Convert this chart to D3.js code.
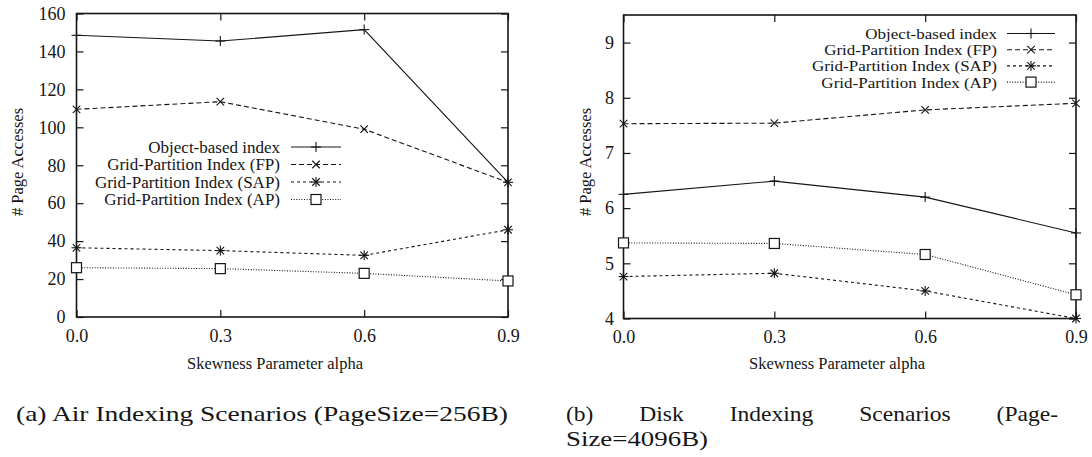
<!DOCTYPE html>
<html>
<head>
<meta charset="utf-8">
<script src="https://cdn.jsdelivr.net/npm/d3@7"></script>
<style>
  html, body { margin: 0; padding: 0; background: #fff; }
  svg { display: block; }
  text { fill: #151515; }
</style>
</head>
<body>
<svg id="fig" width="1092" height="457"></svg>
<script>
// Skewness parameter values on the x axis
const alphaValues = [0.0, 0.3, 0.6, 0.9];
const alphaTickLabels = ["0.0", "0.3", "0.6", "0.9"];

// Series names (legend order)
const seriesNames = [
  "Object-based index",
  "Grid-Partition Index (FP)",
  "Grid-Partition Index (SAP)",
  "Grid-Partition Index (AP)"
];

// (a) Air indexing, page size 256B
const airObject = [148.5, 145.5, 151.5, 71];
const airFP     = [109.5, 113.5, 99, 71];
const airSAP    = [36.5, 35, 32.5, 46];
const airAP     = [26, 25.5, 23, 19];
const airYTicks = [0, 20, 40, 60, 80, 100, 120, 140, 160];

// (b) Disk indexing, page size 4096B
const diskObject = [6.25, 6.49, 6.2, 5.55];
const diskFP     = [7.53, 7.54, 7.78, 7.9];
const diskSAP    = [4.76, 4.82, 4.5, 4.0];
const diskAP     = [5.37, 5.36, 5.16, 4.43];
const diskYTicks = [4, 5, 6, 7, 8, 9];

const ink = "#151515";
const serif = "Liberation Serif, Times New Roman, serif";
const styles = [
  { dash: null,  marker: "plus" },
  { dash: "5,3", marker: "cross" },
  { dash: "3,3", marker: "star" },
  { dash: "1,1.6", marker: "square" }
];

const svg = d3.select("#fig");

function drawMarker(g, type, x, y, s) {
  const m = g.append("g").attr("transform", `translate(${x},${y})`)
    .attr("stroke", ink).attr("stroke-width", 1.1).attr("fill", "none");
  if (type === "plus" || type === "star") {
    m.append("line").attr("x1", -s).attr("x2", s).attr("y1", 0).attr("y2", 0);
    m.append("line").attr("x1", 0).attr("x2", 0).attr("y1", -s).attr("y2", s);
  }
  if (type === "cross" || type === "star") {
    const d = s * 0.75;
    m.append("line").attr("x1", -d).attr("x2", d).attr("y1", -d).attr("y2", d);
    m.append("line").attr("x1", -d).attr("x2", d).attr("y1", d).attr("y2", -d);
  }
  if (type === "square") {
    m.append("rect").attr("x", -s).attr("y", -s).attr("width", 2 * s).attr("height", 2 * s)
      .attr("fill", "#fff").attr("stroke-width", 1.2);
  }
}

function drawPanel(cfg) {
  const x = d3.scaleLinear().domain([0, 0.9]).range([cfg.left, cfg.right]);
  const y = d3.scaleLinear().domain(cfg.yDomain).range([cfg.bottom, cfg.top]);
  const g = svg.append("g");
  const tickLen = 7;

  // left axis with labels, inward ticks
  const yAxisL = d3.axisLeft(y).tickValues(cfg.yTicks).tickSize(-tickLen).tickPadding(cfg.yPad)
    .tickFormat(cfg.yFormat);
  const gl = g.append("g").attr("transform", `translate(${cfg.left},0)`).call(yAxisL);
  // right mirrored ticks
  const yAxisR = d3.axisRight(y).tickValues(cfg.yTicks).tickSize(-tickLen).tickFormat("");
  const gr = g.append("g").attr("transform", `translate(${cfg.right},0)`).call(yAxisR);
  // bottom axis with labels
  const xAxisB = d3.axisBottom(x).tickValues(alphaValues).tickSize(-tickLen).tickPadding(12)
    .tickFormat((d, i) => alphaTickLabels[i]);
  const gb = g.append("g").attr("transform", `translate(0,${cfg.bottom})`).call(xAxisB);
  // top mirrored ticks
  const xAxisT = d3.axisTop(x).tickValues(alphaValues).tickSize(-tickLen).tickFormat("");
  const gt = g.append("g").attr("transform", `translate(0,${cfg.top})`).call(xAxisT);

  [gl, gr, gb, gt].forEach(a => {
    a.select(".domain").remove();
    a.selectAll(".tick line").attr("stroke", ink).attr("stroke-width", 1.2);
    a.selectAll(".tick text")
      .attr("font-family", serif)
      .attr("font-size", cfg.tickFont).attr("fill", ink);
  });

  // frame
  g.append("rect").attr("x", cfg.left).attr("y", cfg.top)
    .attr("width", cfg.right - cfg.left).attr("height", cfg.bottom - cfg.top)
    .attr("fill", "none").attr("stroke", ink).attr("stroke-width", 1.6);

  // series
  const line = d3.line().x((d, i) => x(alphaValues[i])).y(d => y(d));
  cfg.series.forEach((vals, si) => {
    const st = styles[si];
    g.append("path").datum(vals).attr("d", line)
      .attr("fill", "none").attr("stroke", ink).attr("stroke-width", 1.1)
      .attr("stroke-dasharray", st.dash);
    vals.forEach((v, i) => drawMarker(g, st.marker, x(alphaValues[i]), y(v), cfg.markerSize));
  });

  // legend: entries keep the width of a 17px label even when the font is set smaller
  cfg.series.forEach((vals, si) => {
    const st = styles[si];
    const ly = cfg.legendY + si * cfg.legendStep;
    const t = g.append("text").attr("x", cfg.legendTextX).attr("y", ly).attr("dy", "0.35em")
      .attr("text-anchor", "end")
      .attr("font-family", serif)
      .attr("font-size", 17).text(seriesNames[si]);
    const w = t.node().getComputedTextLength();
    t.attr("font-size", cfg.legendFont)
      .attr("textLength", w).attr("lengthAdjust", "spacingAndGlyphs");
    g.append("line").attr("x1", cfg.legendLineX1).attr("x2", cfg.legendLineX2)
      .attr("y1", ly).attr("y2", ly).attr("stroke", ink).attr("stroke-width", 1.1)
      .attr("stroke-dasharray", st.dash);
    drawMarker(g, st.marker, (cfg.legendLineX1 + cfg.legendLineX2) / 2, ly, cfg.markerSize);
  });

  // axis titles
  g.append("text")
    .attr("transform", `translate(${cfg.yTitleX},${cfg.yTitleY}) rotate(-90)`)
    .attr("text-anchor", "middle").attr("dy", "0.35em")
    .attr("font-family", serif)
    .attr("font-size", cfg.titleFont).text("# Page Accesses");
  g.append("text")
    .attr("x", cfg.xTitleX).attr("y", cfg.xTitleY).attr("dy", "0.35em")
    .attr("text-anchor", "middle")
    .attr("font-family", serif)
    .attr("font-size", cfg.titleFont).text("Skewness Parameter alpha");
}

drawPanel({
  left: 76.5, right: 508, top: 13.5, bottom: 317,
  yDomain: [0, 160], yTicks: airYTicks, yFormat: d3.format("d"), yPad: 11,
  series: [airObject, airFP, airSAP, airAP],
  tickFont: 18, legendFont: 17, titleFont: 16.5, markerSize: 5,
  legendY: 147, legendStep: 17.5, legendTextX: 280,
  legendLineX1: 291, legendLineX2: 341,
  yTitleX: 17, yTitleY: 162, xTitleX: 275, xTitleY: 363
});

drawPanel({
  left: 623.5, right: 1076, top: 15, bottom: 318.5,
  yDomain: [4, 9.5], yTicks: diskYTicks, yFormat: d3.format("d"), yPad: 9.5,
  series: [diskObject, diskFP, diskSAP, diskAP],
  tickFont: 18, legendFont: 15.5, titleFont: 16.5, markerSize: 5,
  legendY: 33.5, legendStep: 16.2, legendTextX: 997,
  legendLineX1: 1007, legendLineX2: 1055,
  yTitleX: 585, yTitleY: 162, xTitleX: 837, xTitleY: 363
});

// sub-figure captions
const capSize = 21;
svg.append("text").attr("x", 16).attr("y", 414).attr("dy", "0.35em")
  .attr("font-family", serif).attr("font-size", capSize)
  .attr("textLength", 492).attr("lengthAdjust", "spacingAndGlyphs")
  .text("(a) Air Indexing Scenarios (PageSize=256B)");

// justified first line of caption (b)
const capWords = ["(b)", "Disk", "Indexing", "Scenarios", "(Page-"];
const capG = svg.append("g");
const capTexts = capWords.map(w => capG.append("text").attr("y", 414).attr("dy", "0.35em")
  .attr("font-family", serif).attr("font-size", capSize).text(w));
const capLeft = 566, capRight = 1058;
const stretch = 1.12;
const widths = capTexts.map(t => t.node().getComputedTextLength() * stretch);
capTexts.forEach((t, i) => t.attr("textLength", widths[i]).attr("lengthAdjust", "spacingAndGlyphs"));
const gap = (capRight - capLeft - d3.sum(widths)) / (capWords.length - 1);
let cx = capLeft;
capTexts.forEach((t, i) => { t.attr("x", cx); cx += widths[i] + gap; });
svg.append("text").attr("x", 566).attr("y", 438.5).attr("dy", "0.35em")
  .attr("font-family", serif).attr("font-size", capSize)
  .attr("textLength", 142).attr("lengthAdjust", "spacingAndGlyphs")
  .text("Size=4096B)");
</script>
</body>
</html>
